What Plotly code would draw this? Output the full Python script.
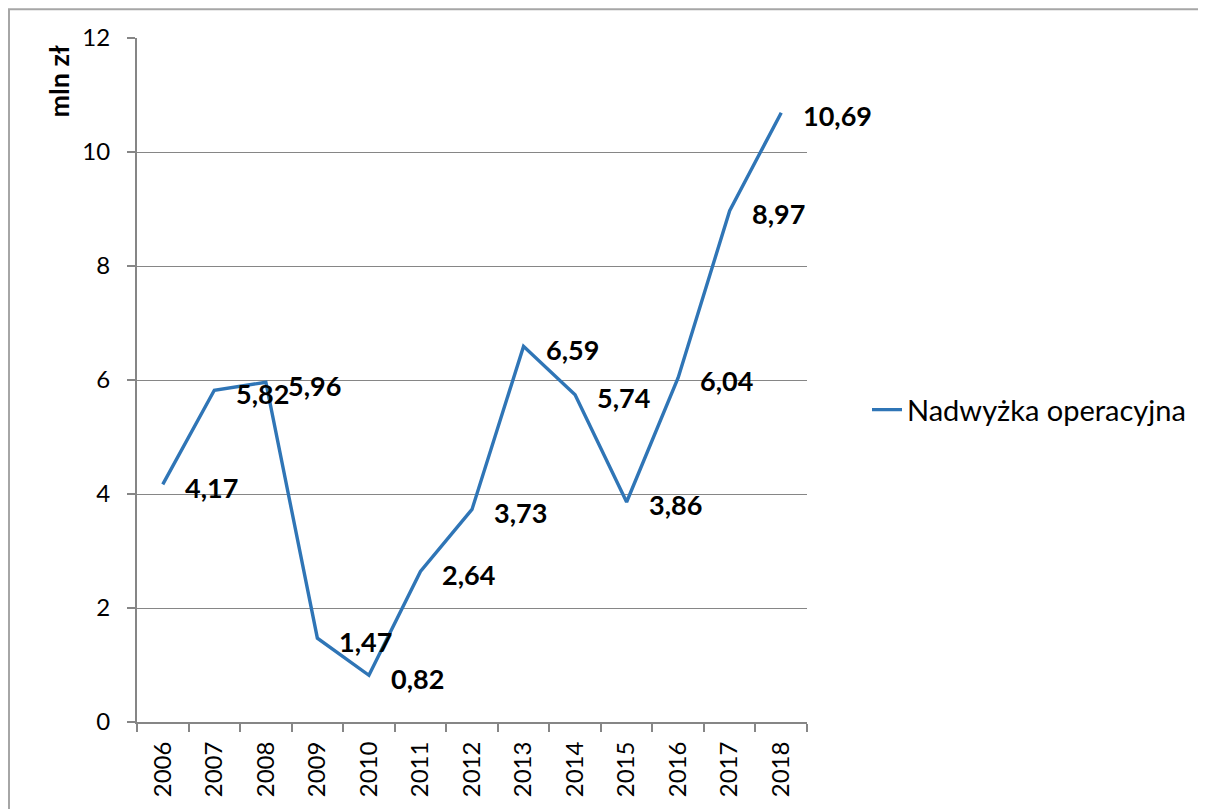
import plotly.graph_objects as go

years = ["2006", "2007", "2008", "2009", "2010", "2011", "2012", "2013", "2014", "2015", "2016", "2017", "2018"]
values = [4.17, 5.82, 5.96, 1.47, 0.82, 2.64, 3.73, 6.59, 5.74, 3.86, 6.04, 8.97, 10.69]
labels = [f"{v:.2f}".replace(".", ",") for v in values]
series_name = "Nadwyżka operacyjna"
y_title = "mln zł"

# page has an 8px body margin; figure sized to fit the window
OFF = 8
W, H = 1206 - OFF, 809 - OFF
L, T = 137 - OFF, 38 - OFF
R = W - (807 - OFF)
B = H - (728 - OFF)
pw, ph = W - L - R, H - T - B

def px_x(p):  # page pixel -> paper
    return (p - OFF - L) / pw

def px_y(p):
    return (H - B - (p - OFF)) / ph

fig = go.Figure()
fig.add_trace(go.Scatter(
    x=years, y=values, mode="lines", name=series_name,
    line=dict(color="#2F75B6", width=3.4),
    showlegend=True,
))

for i, (v, t) in enumerate(zip(values, labels)):
    fig.add_annotation(
        x=i, y=v, text=f"<b>{t}</b>", showarrow=False,
        xanchor="left", yanchor="middle", xshift=20, yshift=-3,
        font=dict(family="Lato", size=27, color="black"),
    )

fig.add_annotation(
    xref="paper", yref="paper", x=px_x(59), y=px_y(82),
    text=f"<b>{y_title}</b>", textangle=-90, showarrow=False,
    xanchor="center", yanchor="middle",
    font=dict(family="Lato", size=27, color="black"),
)

# outer chart border
fig.add_shape(type="rect", xref="paper", yref="paper",
              x0=px_x(9), x1=px_x(1225), y0=px_y(830), y1=px_y(9),
              line=dict(color="#A6A6A6", width=2), layer="below")

fig.update_layout(
    width=W, height=H,
    margin=dict(l=L, r=R, t=T, b=B),
    paper_bgcolor="white", plot_bgcolor="white",
    font=dict(family="Lato", size=24, color="black"),
    legend=dict(
        x=px_x(867), y=px_y(413), xanchor="left", yanchor="middle",
        font=dict(family="Lato", size=29, color="black"),
        bgcolor="rgba(0,0,0,0)",
    ),
    xaxis=dict(
        type="category", range=[-0.5, 12.5],
        showgrid=False, showline=True, linecolor="#868686", linewidth=2,
        ticks="outside", tickson="boundaries", ticklen=8, tickcolor="#868686", tickwidth=2,
        tickangle=-90, tickfont=dict(family="Lato", size=24, color="black"),
        ticklabelstandoff=8,
    ),
    yaxis=dict(
        range=[0, 12], dtick=2, tick0=0,
        showgrid=True, gridcolor="#868686", gridwidth=1,
        showline=True, linecolor="#868686", linewidth=2,
        ticks="outside", ticklen=8, tickcolor="#868686", tickwidth=2,
        tickfont=dict(family="Lato", size=24, color="black"),
        ticklabelstandoff=12, zeroline=False,
    ),
)

fig.write_html("out.html")
